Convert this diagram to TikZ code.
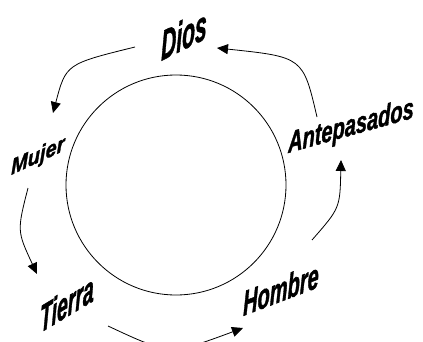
\documentclass[tikz,border=0pt]{standalone}
\usepackage{fontspec}
\setmainfont{Liberation Sans}
\newfontfamily\lblfont{Liberation Sans}[FakeBold=1.6]
\usetikzlibrary{arrows.meta}
\tikzset{
  lbl/.style={anchor=base west, inner sep=0pt, font=\fontsize{20}{24}\selectfont\lblfont\bfseries\itshape},
  cyc/.style={line width=0.8pt, -{Triangle[length=11pt,width=10pt]}},
}
\begin{document}
\begin{tikzpicture}[x=1pt,y=-1pt]
\useasboundingbox (0,0) rectangle (423,342);
% central circle
\node[draw, circle, line width=0.8pt, minimum size=220pt, inner sep=0pt] (ring) at (176,185) {};
% labels
\node[lbl, yslant=0.5, xscale=1.05, yscale=2.1] (dios) at (161,61) {Dios};
\node[lbl, yslant=0.46, xscale=1.0, yscale=1.1] (mujer) at (11,175) {Mujer};
\node[lbl, yslant=0.6, xscale=0.97, yscale=1.9] (tierra) at (40,333) {Tierra};
\node[lbl, yslant=0.38, xscale=1.0, yscale=1.75] (hombre) at (243,316) {Hombre};
\node[lbl, yslant=0.28, xscale=1.0, yscale=1.5] (ante) at (288,153) {Antepasados};
% arrow end points
\coordinate (d1) at (135,47);  \coordinate (m1) at (53,113);
\coordinate (m2) at (28,188);  \coordinate (t2) at (37,274);
\coordinate (t3) at (108,326); \coordinate (h3) at (243,328);
\coordinate (h4) at (312,240); \coordinate (a4) at (341,160);
\coordinate (a5) at (317,117); \coordinate (d5) at (217,48);
% arrows
\draw[cyc] (d1) .. controls (66,64) .. (m1);
\draw[cyc] (m2) .. controls (17,231) .. (t2);
\draw[cyc] (t3) .. controls (170,355) .. (h3);
\draw[cyc] (h4) .. controls (340,208) .. (a4);
\draw[cyc] (a5) .. controls (303,57) .. (d5);
\end{tikzpicture}
\end{document}
